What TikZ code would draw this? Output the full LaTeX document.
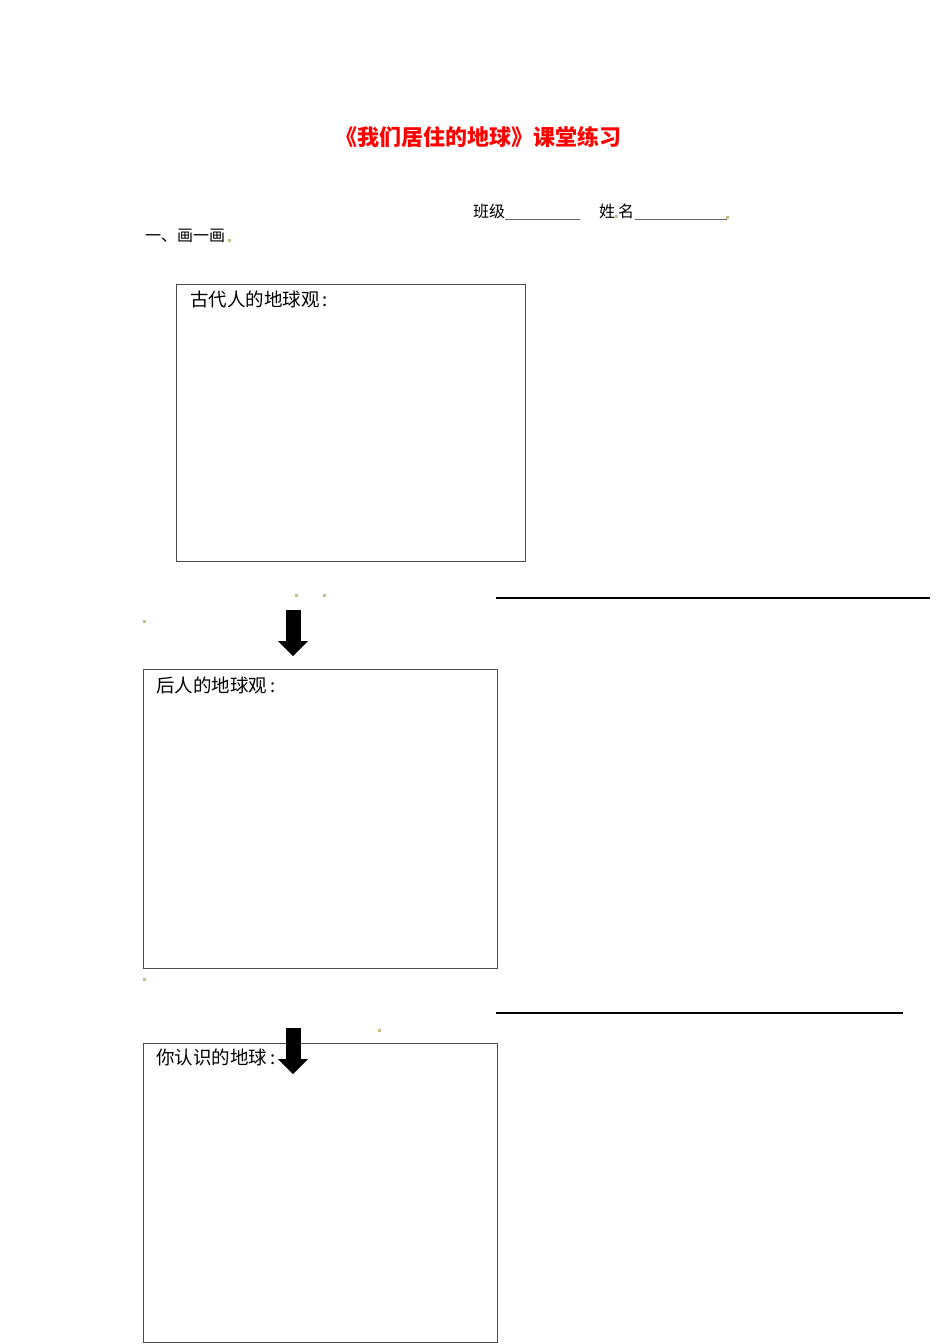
\documentclass[tikz,border=0pt]{standalone}
\usepackage{fontspec}
\setmainfont{Noto Sans CJK SC}
\usepackage{tikz}
\usetikzlibrary{positioning,arrows.meta}
\definecolor{markcol}{RGB}{200,190,135}
\tikzstyle{box} = [rectangle, draw=black!70, line width=1.2pt, anchor=north west, inner sep=0pt]
\tikzstyle{boxtitle} = [inner sep=0pt, font=\fontsize{18.5}{20}\selectfont]
\tikzstyle{body} = [inner sep=0pt, anchor=west, font=\fontsize{16}{18}\selectfont]
\tikzstyle{rule} = [draw, line width=1.3pt]
\tikzstyle{blank} = [draw=black!60, line width=1pt]
\tikzstyle{blockarrow} = [draw, line width=15pt, -{Triangle[width=30pt, length=15pt, line width=0pt]}]
\tikzstyle{parmark} = [rectangle, fill=markcol, minimum size=3pt, inner sep=0pt]

\begin{document}
\begin{tikzpicture}[x=1pt, y=-1pt]
		\useasboundingbox (0,0) rectangle (950,1344);
		% Place nodes
		\node [text=red, font=\fontsize{22}{24}\selectfont\bfseries] (title) at (478,137) {《我们居住的地球》课堂练习};
		\node [body] (classlabel) at (473,211) {班级};
		\node [body] (namelabel) at (599,211) {姓\hspace{3pt}名};
		\node [body] (section) at (145,236) {一、画一画};
		
		\node [box, minimum width=349pt, minimum height=277pt] (ancientbox) at (176,284) {};
		\node [boxtitle, below right=7pt and 14pt of ancientbox.north west] (ancienttitle) {古代人的地球观\,:};
		\node [box, minimum width=354pt, minimum height=299pt] (laterbox) at (143,669) {};
		\node [boxtitle, below right=8pt and 13pt of laterbox.north west] (latertitle) {后人的地球观\,:};
		\node [box, minimum width=354pt, minimum height=299pt] (yoursbox) at (143,1043) {};
		\node [boxtitle, below right=6pt and 13pt of yoursbox.north west] (yourstitle) {你认识的地球\,:};
		
		\coordinate (arrowtopa) at (293,610);
		\coordinate (arrowtipa) at (293,656);
		\coordinate (arrowtopb) at (293,1028);
		\coordinate (arrowtipb) at (293,1074);
		\coordinate (rulestarta) at (496,598);
		\coordinate (ruleenda) at (930,598);
		\coordinate (rulestartb) at (496,1013);
		\coordinate (ruleendb) at (903,1013);
		
		% paragraph marks
		\foreach \x/\y in {296/595, 324/595, 144/621, 144/979, 379/1030, 229/240, 616/216, 727/217}
			\node [parmark] at (\x,\y) {};
		
		% Draw edges
		\path [blank] ([yshift=-8pt]classlabel.east) -- ++(75,0);
		\path [blank] ([xshift=1pt, yshift=-8pt]namelabel.east) -- (727,219);
		\path [rule] (rulestarta) -- (ruleenda);
		\path [rule] (rulestartb) -- (ruleendb);
		\path [blockarrow] (arrowtopa) -- (arrowtipa);
		\path [blockarrow] (arrowtopb) -- (arrowtipb);
	\end{tikzpicture}
\end{document}
